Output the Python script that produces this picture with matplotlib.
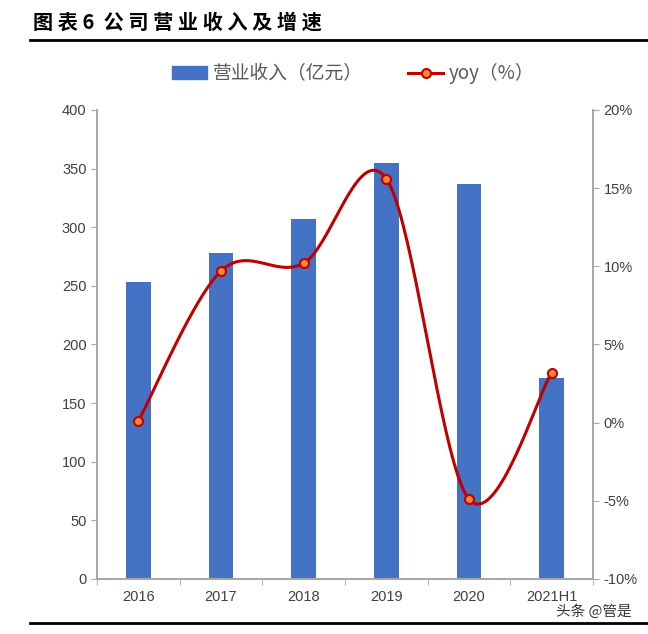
import numpy as np
import matplotlib.pyplot as plt
from matplotlib.lines import Line2D
from matplotlib.patches import Patch

plt.rcParams['font.family'] = ['Noto Sans CJK SC', 'DejaVu Sans']

years = ['2016', '2017', '2018', '2019', '2020', '2021H1']
revenue = [253, 278, 307, 355, 337, 171]       # 亿元
yoy = [0.1, 9.7, 10.2, 15.6, -4.9, 3.2]        # %


def smooth(x, y, n=40):
    # excel-style smoothing: bezier segments with catmull-rom control points
    x = np.asarray(x, float)
    y = np.asarray(y, float)
    px = np.concatenate([[x[0]], x, [x[-1]]])
    py = np.concatenate([[y[0]], y, [y[-1]]])
    xs, ys = [], []
    t = np.linspace(0, 1, n)
    for i in range(len(x) - 1):
        p0 = np.array([px[i + 1], py[i + 1]])
        p3 = np.array([px[i + 2], py[i + 2]])
        c1 = p0 + (p3 - np.array([px[i], py[i]])) / 6
        c2 = p3 - (np.array([px[i + 3], py[i + 3]]) - p0) / 6
        b = ((1 - t) ** 3)[:, None] * p0 + (3 * (1 - t) ** 2 * t)[:, None] * c1 \
            + (3 * (1 - t) * t ** 2)[:, None] * c2 + (t ** 3)[:, None] * p3
        xs.extend(b[:, 0])
        ys.extend(b[:, 1])
    return np.array(xs), np.array(ys)


fig = plt.figure(figsize=(6.48, 6.34), dpi=100)
ax = fig.add_axes([0.1497, 0.0868, 0.7654, 0.7397])
ax2 = ax.twinx()

x = np.arange(len(years))
ax.bar(x, revenue, width=0.3, color='#4472C4', zorder=2)
ax.set_xlim(-0.5, len(years) - 0.5)
ax.set_ylim(0, 400)
ax.set_yticks(range(0, 401, 50))

sx, sy = smooth(x, yoy)
ax2.plot(sx, sy, color='#C00000', lw=2.2, zorder=3)
ax2.plot(x, yoy, 'o', ms=6.5, mfc='#F0883A', mec='#C00000', mew=1.5, zorder=4)
ax2.set_ylim(-10, 20)
ax2.set_yticks(range(-10, 21, 5))
ax2.set_yticklabels([f'{v}%' for v in range(-10, 21, 5)])

ax.set_xticks(x)
ax.set_xticklabels(years)
ax.set_xticks(np.arange(-0.5, len(years), 1), minor=True)
ax.tick_params(axis='x', which='major', length=0, pad=8)
ax.tick_params(axis='x', which='minor', length=4, color='#A6A6A6')

for a in (ax, ax2):
    a.spines['top'].set_visible(False)
    for s in ('left', 'right', 'bottom'):
        a.spines[s].set_color('#A6A6A6')
        a.spines[s].set_linewidth(1.2)
    a.tick_params(axis='y', length=4, color='#A6A6A6', labelsize=10.5, labelcolor='#404040')
    a.tick_params(axis='x', labelsize=10.5, labelcolor='#404040')
    for lab in a.get_xticklabels() + a.get_yticklabels():
        lab.set_fontfamily('Liberation Sans')

# title and rules
fig.text(0.051, 0.965, '图 表 6  公 司 营 业 收 入 及 增 速', fontsize=14.5, fontweight='bold',
         va='center', ha='left', color='black')
fig.add_artist(Line2D([0.046, 1.0], [0.937, 0.937], color='black', lw=2))
fig.add_artist(Line2D([0.046, 1.0], [0.017, 0.017], color='black', lw=2))
fig.text(0.975, 0.035, '头条 @管是', fontsize=10.5, ha='right', va='center', color='#333333')

handles = [Patch(color='#4472C4'),
           Line2D([], [], color='#C00000', lw=2.2, marker='o', ms=6.5,
                  mfc='#F0883A', mec='#C00000', mew=1.5)]
fig.legend(handles, ['营业收入（亿元）', 'yoy（%）'], loc='center',
           bbox_to_anchor=(0.545, 0.884), ncol=2, frameon=False, fontsize=13.5,
           labelcolor='#595959', handlelength=1.9, columnspacing=2.4,
           handletextpad=0.3)

fig.savefig('out.png', dpi=100)
